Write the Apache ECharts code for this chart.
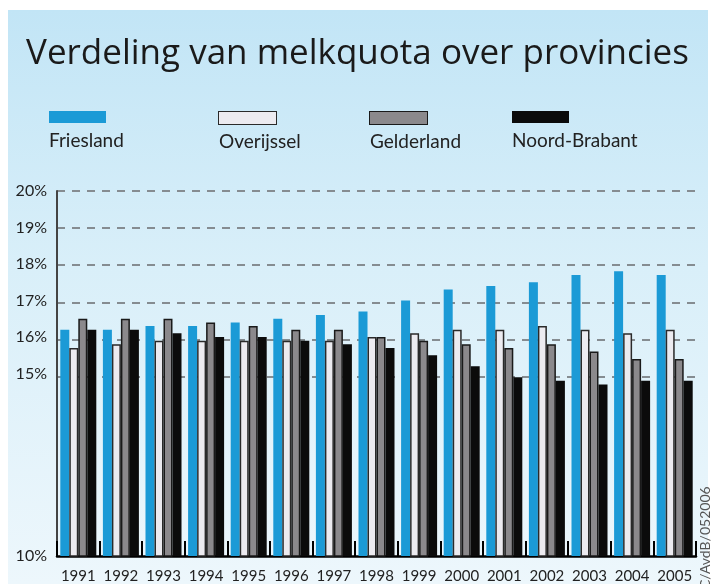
<!DOCTYPE html>
<html>
<head>
<meta charset="utf-8">
<title>Verdeling van melkquota over provincies</title>
<script src="https://cdn.jsdelivr.net/npm/echarts@6/dist/echarts.min.js"></script>
<style>
  body { margin: 0; background: #fff; }
  .panel {
    position: absolute; left: 8px; top: 10px; width: 700px; height: 574px;
    background: linear-gradient(to bottom, #c2e5f6 0%, #d9eff9 45%, #edf7fc 100%);
  }
  #chart { position: absolute; left: 0; top: 0; width: 715px; height: 584px; }
</style>
</head>
<body>
<div class="panel"></div>
<div id="chart"></div>
<script>
// jaren (categorieen)
const years = ['1991', '1992', '1993', '1994', '1995', '1996', '1997', '1998',
  '1999', '2000', '2001', '2002', '2003', '2004', '2005']

// aandeel melkquota per provincie, in %
const friesland = [16.2, 16.2, 16.3, 16.3, 16.4, 16.5, 16.6, 16.7, 17.0, 17.3, 17.4, 17.5, 17.7, 17.8, 17.7]
const overijssel = [15.7, 15.8, 15.9, 15.9, 15.9, 15.9, 15.9, 16.0, 16.1, 16.2, 16.2, 16.3, 16.2, 16.1, 16.2]
const gelderland = [16.5, 16.5, 16.5, 16.4, 16.3, 16.2, 16.2, 16.0, 15.9, 15.8, 15.7, 15.8, 15.6, 15.4, 15.4]
const noordBrabant = [16.2, 16.2, 16.1, 16.0, 16.0, 15.9, 15.8, 15.7, 15.5, 15.2, 14.9, 14.8, 14.7, 14.8, 14.8]

const provinceNames = ['Friesland', 'Overijssel', 'Gelderland', 'Noord-Brabant']
// y-as: alleen deze waarden krijgen een label
const yTickLabels = [10, 15, 16, 17, 18, 19, 20]

const font = 'Lato'
const colors = ['#1b9ad6', '#ecebf0', '#8b898c', '#0b0b0b']
const borders = [null, '#2a2a2a', '#1a1a1a', null]
const legendLeft = [44, 214, 365, 507]

const seriesData = [friesland, overijssel, gelderland, noordBrabant]

const chart = echarts.init(document.getElementById('chart'))

const legends = provinceNames.map((name, i) => {
  const rich = {
    t: { fontFamily: font, fontSize: 19, color: '#222', lineHeight: 34 }
  }
  rich['b' + i] = {
    width: 57,
    height: 12,
    lineHeight: 13,
    backgroundColor: colors[i],
    borderColor: borders[i] || colors[i],
    borderWidth: borders[i] ? 1 : 0
  }
  return {
    data: [name],
    left: legendLeft[i],
    top: 111,
    padding: 0,
    icon: 'none',
    itemWidth: 0,
    itemHeight: 0,
    selectedMode: false,
    formatter: n => '{b' + i + '| }\n{t|' + n + '}',
    textStyle: { rich }
  }
})

const series = seriesData.map((data, i) => ({
  name: provinceNames[i],
  type: 'bar',
  xAxisIndex: 0,
  yAxisIndex: 0,
  barWidth: 9,
  barGap: '0%',
  data: data,
  itemStyle: {
    color: colors[i],
    borderColor: borders[i] || colors[i],
    borderWidth: borders[i] ? 1.5 : 0
  }
}))

chart.setOption({
  animation: false,
  title: {
    text: 'Verdeling van melkquota over provincies',
    left: 'center',
    top: 32,
    textStyle: { fontFamily: 'Open Sans', fontSize: 35, fontWeight: 'normal', color: '#1a1a1a' }
  },
  legend: legends,
  grid: [
    { left: 57, right: 19, top: 191, bottom: 22 },
    // alleen voor de stippellijnen tussen 15% en 20%
    { left: 57, right: 19, top: 191, height: 185.5 }
  ],
  xAxis: [
    {
      type: 'category',
      gridIndex: 0,
      data: years,
      axisLine: { lineStyle: { color: '#000', width: 2.5 } },
      axisTick: { show: true, inside: true, length: 15, lineStyle: { color: '#000', width: 2 } },
      axisLabel: {
        interval: 0,
        margin: 13,
        fontFamily: font,
        fontSize: 15,
        color: '#222'
      }
    },
    {
      type: 'category',
      gridIndex: 1,
      data: years,
      axisLine: { show: false },
      axisTick: { show: false },
      axisLabel: { show: false }
    }
  ],
  yAxis: [
    {
      type: 'value',
      gridIndex: 0,
      min: 10,
      max: 20,
      interval: 1,
      axisLine: { show: true, lineStyle: { color: '#444', width: 2 } },
      axisTick: { show: false },
      splitLine: { show: false },
      axisLabel: {
        margin: 10,
        fontFamily: font,
        fontSize: 16,
        color: '#222',
        formatter: v => (yTickLabels.includes(v) ? v + '%' : '')
      }
    },
    {
      type: 'value',
      gridIndex: 1,
      min: 15,
      max: 20,
      interval: 1,
      axisLine: { show: false },
      axisTick: { show: false },
      axisLabel: { show: false },
      splitLine: {
        show: true,
        lineStyle: { color: '#858c91', width: 2, type: [8, 7] }
      }
    }
  ],
  graphic: [
    {
      type: 'text',
      x: 705,
      y: 589,
      rotation: Math.PI / 2,
      style: {
        text: 'C/AvdB/052006',
        fontFamily: font,
        fontSize: 14,
        fill: '#555',
        verticalAlign: 'middle'
      }
    }
  ],
  series: series
})
</script>
</body>
</html>
